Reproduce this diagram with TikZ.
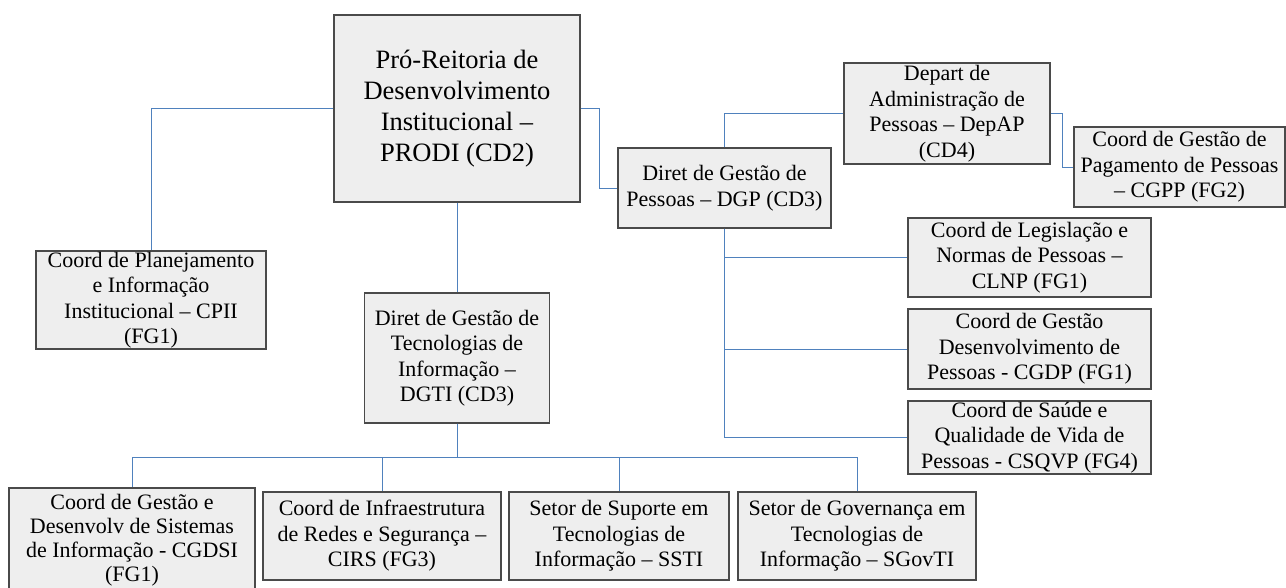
\documentclass[tikz,border=0pt]{standalone}
\usepackage{fontspec}
\setmainfont{Liberation Serif}
\usetikzlibrary{positioning}
\definecolor{linkblue}{HTML}{4F81BD}
\definecolor{boxfill}{HTML}{EEEEEE}
\definecolor{boxline}{HTML}{4A4A4A}

\begin{document}
\begin{tikzpicture}[x=1pt,y=-1pt,
  box/.style={draw=boxline,line width=1.2pt,fill=boxfill,align=center,inner sep=0pt,
              font={\fontsize{22}{25.5}\selectfont}},
  link/.style={draw=linkblue,line width=0.9pt}]
%
  \useasboundingbox (0,0) rectangle (1286,587) ;
  \clip (0,0) rectangle (1286,587) ;
%
  \node [box,minimum width=246,minimum height=187,font={\fontsize{26.5}{31}\selectfont}]
    (prodi) at (457,108.5) {Pró-Reitoria de\\Desenvolvimento\\Institucional –\\PRODI (CD2)} ;
  \node [box,minimum width=230,minimum height=98] (cpii) at (151,300)
    {Coord de Planejamento\\e Informação\\Institucional – CPII\\(FG1)} ;
  \node [box,minimum width=185,minimum height=130] (dgti) at (457,358)
    {Diret de Gestão de\\Tecnologias de\\Informação –\\DGTI (CD3)} ;
  \node [box,minimum width=213,minimum height=80] (dgp) at (724.5,188)
    {Diret de Gestão de\\Pessoas – DGP (CD3)} ;
  \node [box,minimum width=206,minimum height=101] (depap) at (947,113.5)
    {Depart de\\Administração de\\Pessoas – DepAP\\(CD4)} ;
  \node [box,minimum width=211,minimum height=80] (cgpp) at (1179.5,167)
    {Coord de Gestão de\\Pagamento de Pessoas\\– CGPP (FG2)} ;
%
  \node [box,minimum width=243,minimum height=79] (clnp) at (1029.5,257.5)
    {Coord de Legislação e\\Normas de Pessoas –\\CLNP (FG1)} ;
  \node [box,minimum width=243,minimum height=80] (cgdp) at (1029.5,349)
    {Coord de Gestão\\Desenvolvimento de\\Pessoas - CGDP (FG1)} ;
  \node [box,minimum width=243,minimum height=73] (csqvp) at (1029.5,437.5)
    {Coord de Saúde e\\Qualidade de Vida de\\Pessoas - CSQVP (FG4)} ;
%
  \node [box,minimum width=246,minimum height=104,font={\fontsize{22}{24}\selectfont}]
    (cgdsi) at (132,540)
    {Coord de Gestão e\\Desenvolv de Sistemas\\de Informação - CGDSI\\(FG1)} ;
  \node [box,minimum width=238,minimum height=88] (cirs) at (382,536)
    {Coord de Infraestrutura\\de Redes e Segurança –\\CIRS (FG3)} ;
  \node [box,minimum width=220,minimum height=88] (ssti) at (619,536)
    {Setor de Suporte em\\Tecnologias de\\Informação – SSTI} ;
  \node [box,minimum width=238,minimum height=88] (sgovti) at (857,536)
    {Setor de Governança em\\Tecnologias de\\Informação – SGovTI} ;
%
  \draw [link] (prodi.west) -| (cpii.north) ;
  \draw [link] (prodi.east) -- ++(19,0) |- (dgp.west) ;
  \draw [link] (prodi.south) -- (dgti.north) ;
  \draw [link] (dgp.north) |- (depap.west) ;
  \draw [link] (depap.east) -- ++(12,0) |- (cgpp.west) ;
  \foreach \n in {clnp,cgdp,csqvp}
    \draw [link] (dgp.south) |- (\n.west) ;
  \foreach \n in {cgdsi,cirs,ssti,sgovti}
    \draw [link] (dgti.south) -- ++(0,34) -| (\n.north) ;

\end{tikzpicture}
\end{document}
